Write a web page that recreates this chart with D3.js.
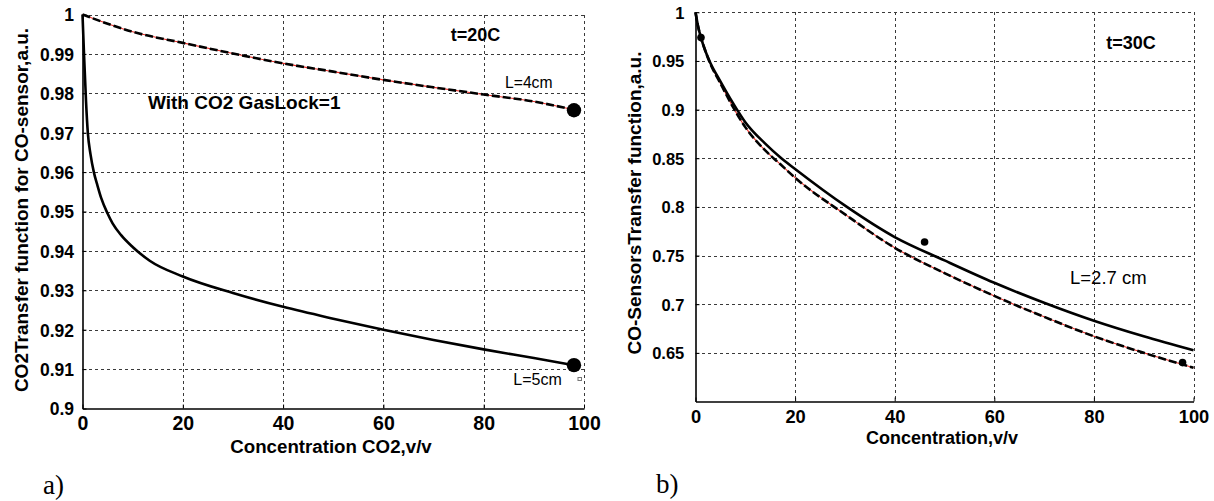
<!DOCTYPE html>
<html><head><meta charset="utf-8">
<script src="https://cdn.jsdelivr.net/npm/d3@7/dist/d3.min.js"></script>
<style>
html,body{margin:0;padding:0;background:#fff;}
svg{display:block;font-family:"Liberation Sans",Arial,sans-serif;}
</style></head>
<body>
<svg id="chart" width="1214" height="501"></svg>
<script>
// ---------- data: panel a) t=20C ----------
const xA_L4 = [0, 10, 20, 30, 40, 50, 60, 70, 80, 90, 98];
const yA_L4 = [1.0, 0.9956, 0.9928, 0.9901, 0.9876, 0.9855, 0.9834, 0.9815, 0.9797, 0.9779, 0.9758];
const xA_L5 = [0, 0.3, 0.7, 1.06, 1.6, 2.26, 3, 3.7, 5, 6, 7.7, 10, 13.4, 20, 30, 40, 50, 60, 70, 80, 90, 98];
const yA_L5 = [1.0, 0.99, 0.978, 0.970, 0.9645, 0.960, 0.9565, 0.9535, 0.9495, 0.947, 0.944, 0.941, 0.9375, 0.9335, 0.9293, 0.9258, 0.9228, 0.920, 0.9174, 0.915, 0.9128, 0.911];
const xA_pts = [98, 98];
const yA_pts = [0.9757, 0.911];
const xTicksA = [0, 20, 40, 60, 80, 100];
const xTickLabelsA = ["0", "20", "40", "60", "80", "100"];
const yTicksA = [0.9, 0.91, 0.92, 0.93, 0.94, 0.95, 0.96, 0.97, 0.98, 0.99, 1];
const yTickLabelsA = ["0.9", "0.91", "0.92", "0.93", "0.94", "0.95", "0.96", "0.97", "0.98", "0.99", "1"];

// ---------- data: panel b) t=30C ----------
const xB = [0, 0.5, 1.1, 2, 2.9, 5, 7.6, 10, 14, 17, 20, 30.4, 40, 50, 60, 70, 80, 90, 100];
const yB_solid = [1.0, 0.986, 0.974, 0.960, 0.949, 0.929, 0.906, 0.887, 0.865, 0.851, 0.839, 0.800, 0.769, 0.745, 0.722, 0.7015, 0.683, 0.667, 0.6526];
const yB_dashed = [1.0, 0.986, 0.974, 0.960, 0.948, 0.927, 0.902, 0.882, 0.858, 0.844, 0.830, 0.791, 0.758, 0.732, 0.7085, 0.687, 0.667, 0.650, 0.6347];
const xB_pts = [1.1, 46, 97.8];
const yB_pts = [0.974, 0.764, 0.640];
const xTicksB = [0, 20, 40, 60, 80, 100];
const xTickLabelsB = ["0", "20", "40", "60", "80", "100"];
const yTicksB = [0.65, 0.7, 0.75, 0.8, 0.85, 0.9, 0.95, 1];
const yTickLabelsB = ["0.65", "0.7", "0.75", "0.8", "0.85", "0.9", "0.95", "1"];

const svg = d3.select("#chart");

function panel(cfg) {
  const x = d3.scaleLinear().domain([0, 100]).range([cfg.x0, cfg.x1]);
  const y = d3.scaleLinear().domain(cfg.yDomain).range([cfg.yBottom, cfg.yTop]);
  const g = svg.append("g");

  // grid
  const grid = g.append("g").attr("stroke", "#3a3a3a").attr("stroke-width", 1)
    .attr("stroke-dasharray", "3,3").attr("shape-rendering", "crispEdges");
  grid.selectAll("line.h").data(cfg.yTicks.filter(v => v > cfg.yDomain[0])).join("line")
    .attr("x1", cfg.x0).attr("x2", cfg.x1)
    .attr("y1", d => Math.round(y(d)) + 0.5).attr("y2", d => Math.round(y(d)) + 0.5);
  grid.selectAll("line.v").data(cfg.xTicks.filter(v => v > 0)).join("line")
    .attr("y1", cfg.yTop).attr("y2", cfg.yBottom)
    .attr("x1", d => Math.round(x(d)) + 0.5).attr("x2", d => Math.round(x(d)) + 0.5);

  // axes
  const ax = g.append("g").attr("transform", `translate(0,${cfg.yBottom})`)
    .call(d3.axisBottom(x).tickValues(cfg.xTicks).tickFormat((d, i) => cfg.xLabels[i]).tickSize(-4).tickSizeOuter(0));
  ax.select(".domain").attr("stroke", "#000").attr("stroke-width", 1.6);
  ax.selectAll(".tick line").attr("stroke", "#000");
  ax.selectAll(".tick text").attr("y", cfg.xTickBase - cfg.yBottom).attr("dy", null)
    .attr("font-size", cfg.xTickSize).attr("font-weight", "bold").attr("fill", "#000")
    .attr("font-family", "Liberation Sans, Arial, sans-serif");

  const ay = g.append("g").attr("transform", `translate(${cfg.x0},0)`)
    .call(d3.axisLeft(y).tickValues(cfg.yTicks).tickFormat((d, i) => cfg.yLabels[i]).tickSize(-4).tickSizeOuter(0));
  ay.select(".domain").attr("stroke", "#000").attr("stroke-width", 1.6);
  ay.selectAll(".tick line").attr("stroke", "#000");
  ay.selectAll(".tick text").attr("x", cfg.yTickRight - cfg.x0).attr("dy", "0.36em")
    .attr("font-size", cfg.yTickSize).attr("font-weight", "bold").attr("fill", "#000")
    .attr("font-family", "Liberation Sans, Arial, sans-serif");

  // titles
  g.append("text").attr("x", cfg.xTitle[0]).attr("y", cfg.xTitle[1]).attr("dy", "0.36em")
    .attr("text-anchor", "middle").attr("font-weight", "bold").attr("font-size", cfg.xTitleSize)
    .text(cfg.xTitleText);
  g.append("text").attr("transform", `translate(${cfg.yTitle[0]},${cfg.yTitle[1]}) rotate(-90)`)
    .attr("dy", "0.36em").attr("text-anchor", "middle").attr("font-weight", "bold")
    .attr("font-size", cfg.yTitleSize).text(cfg.yTitleText);

  return {x, y, g};
}

function drawLine(p, xs, ys, dashed) {
  const line = d3.line().x(d => p.x(d[0])).y(d => p.y(d[1])).curve(d3.curveMonotoneX);
  const data = xs.map((v, i) => [v, ys[i]]);
  if (dashed) {
    p.g.append("path").datum(data).attr("d", line).attr("fill", "none")
      .attr("stroke", "#e8302a").attr("stroke-width", 1.1);
    p.g.append("path").datum(data).attr("d", line).attr("fill", "none")
      .attr("stroke", "#000").attr("stroke-width", 2.6).attr("stroke-dasharray", "8,3");
  } else {
    p.g.append("path").datum(data).attr("d", line).attr("fill", "none")
      .attr("stroke", "#000").attr("stroke-width", 2.6);
  }
}

// ----- panel a -----
const pA = panel({
  x0: 82.5, x1: 584, yTop: 14.5, yBottom: 408.5, yDomain: [0.9, 1],
  xTicks: xTicksA, xLabels: xTickLabelsA, yTicks: yTicksA, yLabels: yTickLabelsA,
  xTickBase: 430, xTickSize: "19.5px", yTickRight: 74, yTickSize: "17.5px",
  xTitle: [331, 446.3], xTitleSize: "18.7px", xTitleText: "Concentration CO2,v/v",
  yTitle: [21.5, 210], yTitleSize: "19px", yTitleText: "CO2Transfer function for CO-sensor,a.u."
});
drawLine(pA, xA_L4, yA_L4, true);
drawLine(pA, xA_L5, yA_L5, false);
pA.g.selectAll("circle.pt").data(xA_pts).join("circle")
  .attr("cx", d => pA.x(d)).attr("cy", (d, i) => pA.y(yA_pts[i])).attr("r", 7.2).attr("fill", "#000");
pA.g.append("text").attr("x", 475.5).attr("y", 34.5).attr("dy", "0.36em").attr("text-anchor", "middle")
  .attr("font-weight", "bold").attr("font-size", "18px").text("t=20C");
pA.g.append("text").attr("x", 148).attr("y", 101.7).attr("dy", "0.36em")
  .attr("font-weight", "bold").attr("font-size", "19px").text("With CO2 GasLock=1");
pA.g.append("text").attr("x", 505).attr("y", 82.3).attr("dy", "0.36em")
  .attr("font-size", "15.7px").text("L=4cm");
pA.g.append("text").attr("x", 513.3).attr("y", 379).attr("dy", "0.36em")
  .attr("font-size", "16px").text("L=5cm");
pA.g.append("rect").attr("x", 578).attr("y", 377.5).attr("width", 3.5).attr("height", 3)
  .attr("fill", "none").attr("stroke", "#777").attr("stroke-width", 1);

// ----- panel b -----
const pB = panel({
  x0: 695.5, x1: 1193.5, yTop: 12.3, yBottom: 401.5, yDomain: [0.6, 1],
  xTicks: xTicksB, xLabels: xTickLabelsB, yTicks: yTicksB, yLabels: yTickLabelsB,
  xTickBase: 423.2, xTickSize: "18.3px", yTickRight: 684.3, yTickSize: "16.5px",
  xTitle: [942, 438], xTitleSize: "18px", xTitleText: "Concentration,v/v",
  yTitle: [634, 203], yTitleSize: "19px", yTitleText: "CO-SensorsTransfer function,a.u."
});
drawLine(pB, xB, yB_dashed, true);
drawLine(pB, xB, yB_solid, false);
pB.g.selectAll("circle.pt").data(xB_pts).join("circle")
  .attr("cx", d => pB.x(d)).attr("cy", (d, i) => pB.y(yB_pts[i])).attr("r", 3.8).attr("fill", "#000");
pB.g.append("text").attr("x", 1131).attr("y", 43).attr("dy", "0.36em").attr("text-anchor", "middle")
  .attr("font-weight", "bold").attr("font-size", "18px").text("t=30C");
pB.g.append("text").attr("x", 1070).attr("y", 277.5).attr("dy", "0.36em")
  .attr("font-size", "18.5px").text("L=2.7 cm");

// ----- panel captions -----
svg.append("text").attr("x", 43).attr("y", 494).attr("font-family", "Liberation Serif, Times New Roman, serif")
  .attr("font-size", "27px").text("a)");
svg.append("text").attr("x", 656).attr("y", 492.7).attr("font-family", "Liberation Serif, Times New Roman, serif")
  .attr("font-size", "27px").text("b)");
</script>
</body></html>
